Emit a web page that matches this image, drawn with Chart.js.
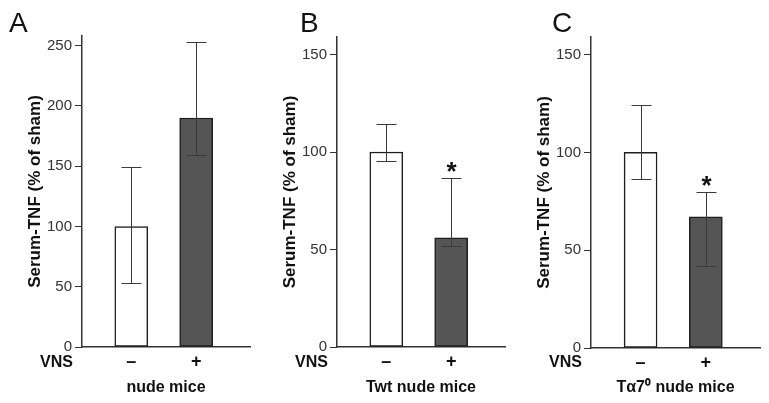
<!DOCTYPE html>
<html>
<head>
<meta charset="utf-8">
<script src="https://cdn.jsdelivr.net/npm/chart.js@4.4.1/dist/chart.umd.min.js"></script>
<style>
  html, body { margin: 0; padding: 0; background: #fff; }
  #wrap { position: relative; width: 769px; height: 403px; }
  canvas { position: absolute; top: 0; }
</style>
</head>
<body>
<div id="wrap">
  <canvas id="panel-0" width="256" height="403" style="left:0"></canvas>
  <canvas id="panel-1" width="256" height="403" style="left:256px"></canvas>
  <canvas id="panel-2" width="257" height="403" style="left:512px"></canvas>
</div>
<script>
// values
const panelLetters = ['A', 'B', 'C'];
const groupNames = ['nude mice', 'Twt nude mice', 'T\u03b17\u2070 nude mice'];
const vnsLabels = ['\u2013', '+'];
const yAxisTitle = 'Serum-TNF (% of sham)';
const yMaxes = [258, 159, 159];
const yStep = 50;
const shamMeans = [100, 100, 100];
const shamLow = [53, 95.5, 86.5];
const shamHigh = [149, 114.5, 124];
const vnsMeans = [190, 56, 67];
const vnsLow = [159, 52, 42];
const vnsHigh = [253, 86.5, 80];
const significant = [false, true, true];

// plot box of each panel in canvas pixels, plus where the panel letter sits
const boxes = [
    { left: 82, right: 250, top: 36, bottom: 347, letterX: 9 },
    { left: 81, right: 249, top: 37, bottom: 347, letterX: 44 },
    { left: 79, right: 248, top: 37, bottom: 348, letterX: 40 }
];

Chart.defaults.font.family = '"Liberation Sans", Arial, sans-serif';
Chart.defaults.color = '#111';

// error bars, asterisks, panel letter and the "VNS" row label
const panelExtras = {
    id: 'panelExtras',
    afterDatasetsDraw(chart, args, opts) {
        const ctx = chart.ctx;
        const y = chart.scales.y;
        const meta = chart.getDatasetMeta(0);
        ctx.save();
        ctx.strokeStyle = '#3a3a3a';
        ctx.lineWidth = 1;
        meta.data.forEach((bar, k) => {
            const x = Math.round(bar.x) + 0.5;
            const lo = Math.round(y.getPixelForValue(opts.low[k])) + 0.5;
            const hi = Math.round(y.getPixelForValue(opts.high[k])) + 0.5;
            ctx.beginPath();
            ctx.moveTo(x, lo);
            ctx.lineTo(x, hi);
            ctx.moveTo(x - 10, lo);
            ctx.lineTo(x + 10, lo);
            ctx.moveTo(x - 10, hi);
            ctx.lineTo(x + 10, hi);
            ctx.stroke();
            if (opts.stars[k]) {
                ctx.fillStyle = '#111';
                ctx.font = 'bold 26px "Liberation Sans", Arial, sans-serif';
                ctx.textAlign = 'center';
                ctx.textBaseline = 'alphabetic';
                ctx.fillText('*', x, hi + 1);
            }
        });
        ctx.restore();
    },
    afterDraw(chart, args, opts) {
        const ctx = chart.ctx;
        const area = chart.chartArea;
        ctx.save();
        ctx.fillStyle = '#111';
        ctx.textBaseline = 'alphabetic';
        ctx.textAlign = 'left';
        ctx.font = '28px "Liberation Sans", Arial, sans-serif';
        ctx.fillText(opts.letter, opts.letterX, 32);
        ctx.textAlign = 'right';
        ctx.font = 'bold 16px "Liberation Sans", Arial, sans-serif';
        ctx.fillText('VNS', area.left - 9, 367);
        ctx.restore();
    }
};

function buildPanel(i) {
    const canvas = document.getElementById('panel-' + i);
    const box = boxes[i];
    const bars = vnsLabels.map((_, k) => ({ x: k + 1, y: k === 0 ? shamMeans[i] : vnsMeans[i] }));

    return new Chart(canvas.getContext('2d'), {
        type: 'bar',
        data: {
            datasets: [{
                data: bars,
                backgroundColor: ['#ffffff', '#555555'],
                borderColor: '#1e1e1e',
                borderWidth: 1.5,
                borderSkipped: false,
                barThickness: 33
            }]
        },
        plugins: [panelExtras],
        options: {
            responsive: false,
            animation: false,
            devicePixelRatio: 1,
            layout: {
                padding: { left: 0, right: canvas.width - box.right, top: box.top, bottom: 0 }
            },
            plugins: {
                legend: { display: false },
                tooltip: { enabled: false },
                panelExtras: {
                    low: [shamLow[i], vnsLow[i]],
                    high: [shamHigh[i], vnsHigh[i]],
                    stars: [false, significant[i]],
                    letter: panelLetters[i],
                    letterX: box.letterX
                }
            },
            scales: {
                x: {
                    type: 'linear',
                    position: 'bottom',
                    offset: false,
                    min: 0.24,
                    max: 2.83,
                    bounds: 'data',
                    afterBuildTicks: ax => { ax.ticks = vnsLabels.map((_, k) => ({ value: k + 1 })); },
                    afterFit: ax => { ax.height = canvas.height - box.bottom; },
                    grid: { display: true, drawOnChartArea: false, drawTicks: false },
                    border: { color: '#333', width: 1.5 },
                    ticks: {
                        callback: v => vnsLabels[v - 1],
                        autoSkip: false,
                        maxRotation: 0,
                        padding: 4,
                        color: '#111',
                        font: { size: 18, weight: 'bold' }
                    },
                    title: {
                        display: true,
                        text: groupNames[i],
                        color: '#111',
                        font: { size: 16, weight: 'bold' },
                        padding: { top: 0, bottom: 6 }
                    }
                },
                y: {
                    min: 0,
                    max: yMaxes[i],
                    afterBuildTicks: ax => {
                        const ticks = [];
                        for (let v = 0; v <= ax.max; v += yStep) ticks.push({ value: v });
                        ax.ticks = ticks;
                    },
                    afterFit: ax => { ax.width = box.left; },
                    grid: { drawOnChartArea: false, drawTicks: true, tickLength: 7, color: '#333' },
                    border: { color: '#333', width: 1.5 },
                    ticks: {
                        padding: 3,
                        color: '#333',
                        font: { size: 15 }
                    },
                    title: {
                        display: true,
                        text: yAxisTitle,
                        color: '#111',
                        font: { size: 17, weight: 'bold' },
                        padding: { top: box.left - 57, bottom: 0 }
                    }
                }
            }
        }
    });
}

const charts = panelLetters.map((_, i) => buildPanel(i));
</script>
</body>
</html>
